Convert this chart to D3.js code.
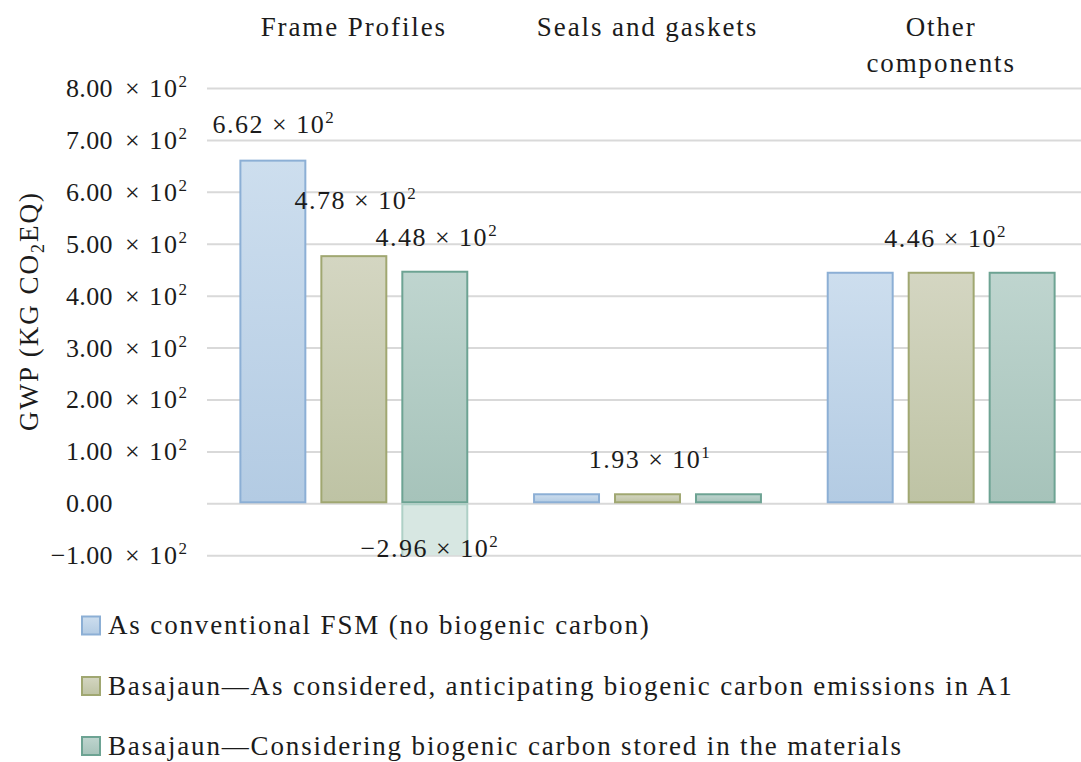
<!DOCTYPE html>
<html>
<head>
<meta charset="utf-8">
<script src="https://cdn.jsdelivr.net/npm/d3@7"></script>
<style>
  body { margin: 0; background: #ffffff; }
  svg text { font-family: "Liberation Serif", "Times New Roman", serif; fill: #1b1b1b; }
</style>
</head>
<body>
<svg id="chart" width="1081" height="762"></svg>
<script>
// ---- data -------------------------------------------------------------
const categories = ["Frame Profiles", "Seals and gaskets", "Other components"];
const seriesNames = [
  "As conventional FSM (no biogenic carbon)",
  "Basajaun\u2014As considered, anticipating biogenic carbon emissions in A1",
  "Basajaun\u2014Considering biogenic carbon stored in the materials"
];
// GWP per component, kg CO2 eq
const conventionalFSM  = [662, 19.3, 446];
const anticipatingA1   = [478, 19.3, 446];
const storedBiogenic   = [448, 19.3, 446];
// biogenic carbon stored in the frame profiles (negative contribution)
const storedCarbon     = [-296, null, null];
const yTicks = [-100, 0, 100, 200, 300, 400, 500, 600, 700, 800];

const seriesValues = [conventionalFSM, anticipatingA1, storedBiogenic];

// which bars carry a value label: [category index, series index]
const labelledBars = [[0, 0], [0, 1], [0, 2], [1, 1], [2, 1]];

// ---- layout & style ---------------------------------------------------
const W = 1081, H = 762;
const plot = { left: 207, right: 1088, top: 88, bottom: 555.2 };
const colors = [
  { top: "#cddeee", bottom: "#b3cbe3", stroke: "#8cafd5" },
  { top: "#d4d6c2", bottom: "#bec3a4", stroke: "#a0a771" },
  { top: "#bfd5cf", bottom: "#a6c3ba", stroke: "#6da393" }
];
const negColor = { fill: "#d7e7e2", stroke: "#aed0c6" };
// label nudges relative to the bar top (dx, dy to baseline)
const labelNudge = [[1, -27], [2, -46], [2, -25], [2.5, -25], [4.5, -25]];
const negLabelNudge = [-5, 54];

const svg = d3.select("#chart");
const defs = svg.append("defs");

const x0 = d3.scaleBand().domain(categories).range([plot.left, plot.right]).padding(0);
const x1 = d3.scaleBand().domain(d3.range(seriesValues.length))
  .range([0, x0.bandwidth()]).paddingInner(0.173).paddingOuter(0.40);
const y = d3.scaleLinear().domain([d3.min(yTicks), d3.max(yTicks)]).range([plot.bottom, plot.top]);

// gradients
colors.forEach((c, i) => {
  const g = defs.append("linearGradient").attr("id", "grad" + i)
    .attr("x1", 0).attr("y1", 0).attr("x2", 0).attr("y2", 1);
  g.append("stop").attr("offset", "0%").attr("stop-color", c.top);
  g.append("stop").attr("offset", "100%").attr("stop-color", c.bottom);
});
defs.append("clipPath").attr("id", "plotClip").append("rect")
  .attr("x", plot.left).attr("y", plot.top - 2)
  .attr("width", W - plot.left).attr("height", plot.bottom - plot.top + 2);

// gridlines
const grid = svg.append("g").attr("transform", `translate(${plot.left},0)`)
  .call(d3.axisLeft(y).tickValues(yTicks).tickSize(-(W - plot.left)).tickFormat(""));
grid.select(".domain").remove();
grid.selectAll(".tick line").attr("stroke", "#d9d9d9").attr("stroke-width", 2);

// y tick labels: mantissa right-aligned, "× 10²" part aligned after it
const tickG = svg.append("g");
yTicks.forEach(v => {
  const yy = y(v) + 9;
  const mant = (v / 100).toFixed(2).replace("-", "\u2212");
  tickG.append("text").attr("x", 113).attr("y", yy).attr("text-anchor", "end")
    .attr("font-size", 26).attr("letter-spacing", 0.4).text(mant);
  if (v !== 0) {
    const t = tickG.append("text").attr("x", 125).attr("y", yy).attr("font-size", 26)
      .attr("letter-spacing", 1.6);
    t.append("tspan").text("\u00d7 10");
    t.append("tspan").attr("font-size", 17).attr("dy", -10).text("2");
  }
});

// y axis title
const yTitle = svg.append("text")
  .attr("transform", "translate(38,311) rotate(-90)")
  .attr("text-anchor", "middle").attr("font-size", 27).attr("letter-spacing", 2);
yTitle.append("tspan").text("GWP (KG CO");
yTitle.append("tspan").attr("font-size", 18).attr("dy", 6).text("2");
yTitle.append("tspan").attr("dy", -6).text("EQ)");

// category labels along the top
categories.forEach(c => {
  const cx = x0(c) + x0.bandwidth() / 2;
  const words = c === "Other components" ? ["Other", "components"] : [c];
  words.forEach((w, i) => {
    svg.append("text").attr("x", cx).attr("y", 36 + i * 36)
      .attr("text-anchor", "middle").attr("font-size", 27).attr("letter-spacing", 1.9)
      .text(w);
  });
});

// bars
const barData = [];
categories.forEach((c, ci) => {
  seriesValues.forEach((vals, si) => barData.push({ c, ci, si, v: vals[ci] }));
});
const barsG = svg.append("g");
barsG.selectAll("rect").data(barData).join("rect")
  .attr("x", d => x0(d.c) + x1(d.si) + 1)
  .attr("y", d => Math.min(y(d.v), y(0)) + 1)
  .attr("width", x1.bandwidth() - 2)
  .attr("height", d => Math.abs(y(d.v) - y(0)) - 2)
  .attr("fill", d => `url(#grad${d.si})`)
  .attr("stroke", d => colors[d.si].stroke)
  .attr("stroke-width", 2);

// stored biogenic carbon (negative part)
const negData = categories.map((c, ci) => ({ c, ci, v: storedCarbon[ci] })).filter(d => d.v != null);
svg.append("g").attr("clip-path", "url(#plotClip)")
  .selectAll("rect").data(negData).join("rect")
  .attr("x", d => x0(d.c) + x1(2) + 1)
  .attr("y", y(0) + 1)
  .attr("width", x1.bandwidth() - 2)
  .attr("height", d => y(d.v) - y(0) - 2)
  .attr("fill", negColor.fill).attr("stroke", negColor.stroke).attr("stroke-width", 2);

// value labels in scientific notation
function sci(v) {
  const e = Math.floor(Math.log10(Math.abs(v)));
  const m = (v / Math.pow(10, e)).toFixed(2).replace("-", "\u2212");
  return { m, e };
}
function valueLabel(xc, yb, v) {
  const s = sci(v);
  const t = svg.append("text").attr("x", xc).attr("y", yb).attr("text-anchor", "middle")
    .attr("font-size", 26).attr("letter-spacing", 1.5);
  t.append("tspan").text(`${s.m} \u00d7 10`);
  t.append("tspan").attr("font-size", 17).attr("dy", -10).text(String(s.e));
}
labelledBars.forEach(([ci, si], i) => {
  const c = categories[ci], v = seriesValues[si][ci];
  valueLabel(x0(c) + x1(si) + x1.bandwidth() / 2 + labelNudge[i][0], y(v) + labelNudge[i][1], v);
});
negData.forEach(d => {
  valueLabel(x0(d.c) + x1(2) + x1.bandwidth() / 2 + negLabelNudge[0], y(0) + negLabelNudge[1], d.v);
});

// legend
const legendRows = [625.5, 686, 746];
seriesNames.forEach((name, i) => {
  svg.append("rect").attr("x", 82).attr("y", legendRows[i] - 9)
    .attr("width", 18).attr("height", 18)
    .attr("fill", `url(#grad${i})`).attr("stroke", colors[i].stroke).attr("stroke-width", 2);
  svg.append("text").attr("x", 108).attr("y", legendRows[i] + 8.5)
    .attr("font-size", 27).attr("letter-spacing", 1.85).text(name);
});
</script>
</body>
</html>
